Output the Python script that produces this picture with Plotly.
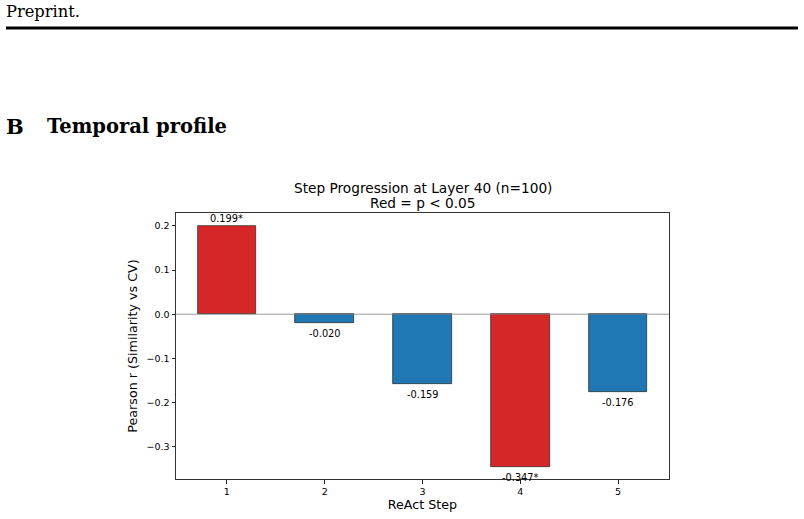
import plotly.graph_objects as go

steps = [1, 2, 3, 4, 5]
pearson_r = [0.199, -0.020, -0.159, -0.347, -0.176]
significant = [True, False, False, True, False]
labels = ["0.199*", "-0.020", "-0.159", "-0.347*", "-0.176"]
ytick_vals = [0.2, 0.1, 0.0, -0.1, -0.2, -0.3]
ytick_text = ["0.2", "0.1", "0.0", "\u22120.1", "\u22120.2", "\u22120.3"]

RED = "#d62728"
BLUE = "#1f77b4"
colors = [RED if s else BLUE for s in significant]

W, H = 804, 519
x0, x1 = 176, 669
y_top, y_bot = 213, 479

fig = go.Figure()
fig.add_trace(go.Bar(
    x=steps, y=pearson_r, width=0.6,
    marker=dict(color=colors, line=dict(color="#222222", width=0.7)),
    hoverinfo="skip",
))

font_sans = "DejaVu Sans"
for s, v, lab in zip(steps, pearson_r, labels):
    fig.add_annotation(
        x=s, y=v, text=lab, showarrow=False,
        yanchor="bottom" if v >= 0 else "top",
        yshift=0 if v >= 0 else -3,
        font=dict(family=font_sans, size=9.8, color="black"),
    )

fig.add_shape(type="line", xref="x domain", yref="y", x0=0, x1=1, y0=0, y1=0,
              line=dict(color="#808080", width=0.8), layer="above")

fig.update_layout(
    width=W, height=H,
    margin=dict(l=0, r=0, t=0, b=0),
    paper_bgcolor="white", plot_bgcolor="white",
    showlegend=False, bargap=0,
    xaxis=dict(
        domain=[x0 / W, x1 / W], range=[0.48, 5.52],
        tickvals=steps, ticktext=[str(s) for s in steps],
        ticks="outside", ticklen=3.5, tickcolor="#222", tickwidth=0.8,
        showline=True, linecolor="#333", linewidth=1, mirror=True,
        showgrid=False, zeroline=False,
        tickfont=dict(family=font_sans, size=9.5, color="black"),
        title=dict(text="ReAct Step", font=dict(family=font_sans, size=12.7, color="black"), standoff=4),
    ),
    yaxis=dict(
        domain=[(H - y_bot) / H, (H - y_top) / H], range=[-0.3735, 0.2294],
        tickvals=ytick_vals, ticktext=ytick_text,
        ticks="outside", ticklen=3.5, tickcolor="#222", tickwidth=0.8,
        showline=True, linecolor="#333", linewidth=1, mirror=True,
        showgrid=False, zeroline=False,
        tickfont=dict(family=font_sans, size=9.5, color="black"),
        title=dict(text="Pearson r (Similarity vs CV)", font=dict(family=font_sans, size=12.7, color="black"), standoff=6),
    ),
)

# chart title
fig.add_annotation(xref="paper", yref="paper", x=(x0 + x1) / 2 / W, y=1 - 188 / H,
                   text="Step Progression at Layer 40 (n=100)", showarrow=False,
                   font=dict(family=font_sans, size=13.7, color="black"), yanchor="middle")
fig.add_annotation(xref="paper", yref="paper", x=(x0 + x1) / 2 / W, y=1 - 203 / H,
                   text="Red = p < 0.05", showarrow=False,
                   font=dict(family=font_sans, size=13.7, color="black"), yanchor="middle")

# page header
serif = "DejaVu Serif"
fig.add_annotation(xref="paper", yref="paper", x=4 / W, y=1 - 12 / H, xanchor="left", yanchor="middle",
                   text="Preprint.", showarrow=False, font=dict(family=serif, size=16.3, color="black"))
fig.add_shape(type="line", xref="paper", yref="paper", x0=6 / W, x1=798 / W, y0=1 - 28 / H, y1=1 - 28 / H,
              line=dict(color="black", width=3))
fig.add_annotation(xref="paper", yref="paper", x=4 / W, y=1 - 126 / H, xanchor="left", yanchor="middle",
                   text="<b>B</b>", showarrow=False, font=dict(family=serif, size=21, color="black"))
fig.add_annotation(xref="paper", yref="paper", x=45 / W, y=1 - 126 / H, xanchor="left", yanchor="middle",
                   text="<b>Temporal profile</b>", showarrow=False, font=dict(family=serif, size=19.5, color="black"))

fig.write_html("out.html")
